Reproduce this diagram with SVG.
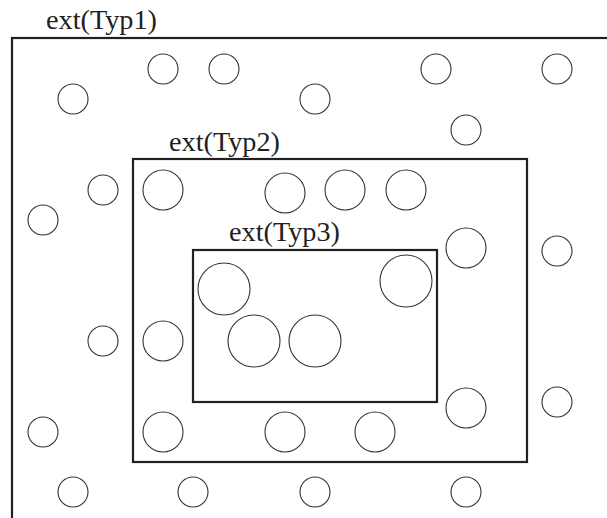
<svg xmlns="http://www.w3.org/2000/svg" width="607" height="518" viewBox="0 0 607 518">
<style>
.box{fill:none;stroke:#231f20;stroke-width:2.2}
.el{fill:none;stroke:#333;stroke-width:1.1}
.lbl{font-family:"Liberation Serif","Times New Roman",serif;font-size:27.5px;fill:#231f20}
</style>
<rect width="607" height="518" fill="#fff"/>
<g id="typ1">
<rect class="box" x="12" y="38" width="620" height="500"/>
<text class="lbl" x="46" y="29" textLength="111" lengthAdjust="spacingAndGlyphs">ext(Typ1)</text>
</g>
<g id="typ2">
<rect class="box" x="133" y="159" width="394" height="303"/>
<text class="lbl" x="169" y="151" textLength="111" lengthAdjust="spacingAndGlyphs">ext(Typ2)</text>
</g>
<g id="typ3">
<rect class="box" x="193" y="250" width="244" height="152"/>
<text class="lbl" x="229" y="241" textLength="111" lengthAdjust="spacingAndGlyphs">ext(Typ3)</text>
</g>
<g id="elements">
<circle class="el" cx="163" cy="69" r="15"/>
<circle class="el" cx="224" cy="69" r="15"/>
<circle class="el" cx="436" cy="69" r="15"/>
<circle class="el" cx="557" cy="69" r="15"/>
<circle class="el" cx="73" cy="99" r="15"/>
<circle class="el" cx="315" cy="99" r="15"/>
<circle class="el" cx="466" cy="130" r="15"/>
<circle class="el" cx="103" cy="190" r="15"/>
<circle class="el" cx="163" cy="190" r="20"/>
<circle class="el" cx="285" cy="193" r="20"/>
<circle class="el" cx="345" cy="190" r="20"/>
<circle class="el" cx="406" cy="190" r="20"/>
<circle class="el" cx="43" cy="220" r="15"/>
<circle class="el" cx="466" cy="248" r="20"/>
<circle class="el" cx="557" cy="251" r="15"/>
<circle class="el" cx="224" cy="289" r="26"/>
<circle class="el" cx="406" cy="281" r="26"/>
<circle class="el" cx="254" cy="341" r="26"/>
<circle class="el" cx="315" cy="341" r="26"/>
<circle class="el" cx="103" cy="341" r="15"/>
<circle class="el" cx="163" cy="341" r="20"/>
<circle class="el" cx="466" cy="408" r="20"/>
<circle class="el" cx="557" cy="402" r="15"/>
<circle class="el" cx="43" cy="432" r="15"/>
<circle class="el" cx="163" cy="432" r="20"/>
<circle class="el" cx="285" cy="432" r="20"/>
<circle class="el" cx="375" cy="432" r="20"/>
<circle class="el" cx="73" cy="492" r="15"/>
<circle class="el" cx="193" cy="492" r="15"/>
<circle class="el" cx="315" cy="492" r="15"/>
<circle class="el" cx="466" cy="492" r="15"/>
</g>
<g id="connectors"/>
</svg>
